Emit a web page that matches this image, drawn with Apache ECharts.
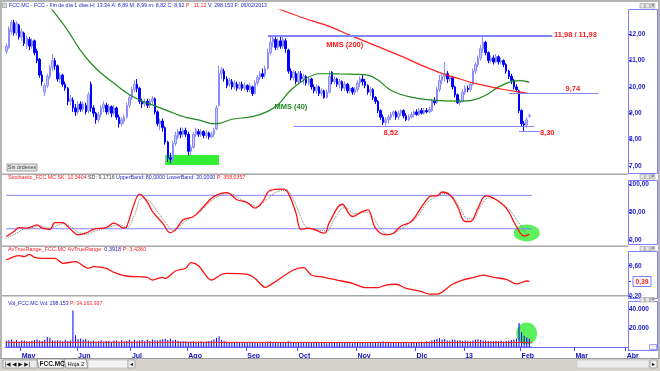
<!DOCTYPE html>
<html><head><meta charset="utf-8">
<script src="https://cdn.jsdelivr.net/npm/echarts@6/dist/echarts.min.js"></script>
<style>html,body{margin:0;padding:0;background:#fff;}#c{width:660px;height:371px;}</style>
</head><body><div id="c"></div>
<script>
// ---- tick labels (month starts, trading-day index) ----
const monthLabels = ['May','Jun','Jul','Ago','Sep','Oct','Nov','Dic','13','Feb','Mar','Abr'];
const monthStarts = [6,28,49,71,94,114,137,160,179,201,222,242];
const nCats = 243;
// ---- daily candles [open, close, low, high] ----
const candles = [
[11.35,11.55,11.25,11.65],[11.5,12.2,11.45,12.3],[12.1,12.45,12.0,12.55],[12.45,12.05,11.95,12.55],[12.05,12.4,11.95,12.5],
[12.35,11.9,11.8,12.4],[11.9,12.1,11.75,12.2],[12.05,11.65,11.55,12.1],[11.6,11.85,11.45,11.95],[11.8,11.55,11.4,11.9],
[11.55,11.75,11.45,11.85],[11.75,11.3,11.2,11.8],[11.35,11.0,10.9,11.45],[11.05,10.45,10.35,11.1],[10.45,10.2,10.05,10.6],
[9.8,10.05,9.65,10.15],[10.05,10.4,9.95,10.5],[10.4,10.75,10.3,10.85],[10.75,11.0,10.6,11.25],[11.0,10.8,10.65,11.1],
[10.8,10.3,10.2,10.85],[10.3,10.45,10.15,10.55],[10.45,10.1,10.0,10.5],[10.1,9.95,9.85,10.2],[9.95,9.45,9.3,10.0],
[9.45,9.55,9.3,9.7],[9.5,9.2,9.05,9.6],[9.2,9.05,8.9,9.35],[9.05,9.35,8.95,9.45],[9.35,9.15,9.05,9.45],
[9.15,9.35,9.05,9.45],[9.3,9.05,8.95,9.4],[9.1,9.7,9.0,9.8],[10.1,9.2,9.05,10.2],[9.2,9.0,8.85,9.3],
[9.0,8.75,8.6,9.05],[8.75,8.95,8.65,9.05],[8.95,9.2,8.85,9.3],[9.2,9.35,9.05,9.45],[9.3,9.05,8.95,9.4],
[9.05,9.25,8.95,9.35],[9.25,9.0,8.85,9.3],[9.0,9.2,8.9,9.3],[9.2,8.85,8.75,9.25],[8.85,8.6,8.45,8.95],
[8.6,8.75,8.5,8.85],[8.7,8.85,8.6,8.95],[8.85,9.3,8.8,9.4],[9.3,9.6,9.2,9.7],[9.6,9.9,9.5,10.0],
[9.9,10.1,9.8,10.25],[10.1,9.95,9.8,10.3],[9.95,9.45,9.35,10.0],[9.45,9.35,9.2,9.55],[9.35,9.45,9.25,9.55],
[9.45,9.3,9.2,9.55],[9.3,9.45,9.2,9.55],[9.45,9.55,9.35,9.65],[9.55,9.05,8.95,9.6],[9.05,8.6,8.5,9.1],
[8.6,8.7,8.35,8.8],[8.7,8.45,8.3,8.8],[8.45,7.9,7.8,8.5],[7.9,7.3,7.15,7.95],[7.3,7.25,7.1,7.5],
[7.25,7.85,7.15,7.95],[7.85,8.15,7.75,8.3],[8.1,8.3,8.0,8.4],[8.3,8.2,8.05,8.45],[8.2,8.35,8.1,8.45],
[8.35,8.2,8.1,8.45],[8.2,7.55,7.4,8.3],[7.55,7.7,7.4,7.8],[7.7,8.2,7.65,8.3],[8.2,8.35,8.1,8.45],
[8.3,8.2,8.1,8.4],[8.2,8.3,8.1,8.4],[8.3,8.15,8.05,8.35],[8.15,8.25,8.05,8.35],[8.25,8.1,8.0,8.3],
[8.1,8.2,8.05,8.3],[8.2,8.35,8.1,8.45],[8.4,9.2,8.35,9.3],[9.3,10.5,9.25,10.8],[10.5,10.65,10.3,10.75],
[10.6,10.3,10.2,10.7],[10.3,10.05,9.95,10.4],[10.1,10.25,10.0,10.35],[10.2,10.0,9.9,10.3],[10.0,10.15,9.9,10.25],
[10.1,9.95,9.85,10.2],[9.95,10.1,9.9,10.2],[10.1,9.95,9.85,10.2],[9.95,10.05,9.85,10.15],[10.05,9.9,9.8,10.1],
[9.9,10.05,9.8,10.15],[10.0,9.75,9.65,10.05],[9.75,10.15,9.7,10.25],[10.15,10.35,10.05,10.45],[10.35,10.5,10.25,10.6],
[10.5,10.4,10.3,10.7],[10.45,10.7,10.35,10.8],[10.7,11.3,10.65,11.45],[11.3,11.7,11.2,11.9],[11.7,11.85,11.5,11.98],
[11.8,11.5,11.4,11.9],[11.5,11.75,11.4,11.85],[11.75,11.55,11.45,11.9],[11.55,11.8,11.45,11.93],[11.75,11.45,11.3,11.85],
[11.4,10.6,10.5,11.45],[10.6,10.35,10.25,10.7],[10.35,10.55,10.25,10.65],[10.5,10.2,10.1,10.6],[10.2,10.5,10.1,10.6],
[10.5,10.3,10.15,10.6],[10.3,10.4,10.1,10.5],[10.4,10.15,10.05,10.45],[10.15,10.3,10.05,10.4],[10.3,10.0,9.9,10.35],
[10.0,9.85,9.75,10.1],[9.85,10.0,9.75,10.1],[10.0,9.75,9.65,10.05],[9.75,9.85,9.65,9.95],[9.85,9.6,9.55,9.9],
[9.6,9.8,9.55,9.9],[9.8,10.4,9.75,10.6],[10.55,10.2,10.1,10.6],[10.2,10.3,10.1,10.4],[10.3,10.1,10.0,10.35],
[10.1,10.2,9.95,10.3],[10.2,9.95,9.85,10.25],[9.95,10.1,9.85,10.2],[10.1,9.85,9.75,10.15],[9.85,9.95,9.75,10.05],
[9.95,9.8,9.7,10.0],[9.8,9.9,9.7,10.0],[9.9,10.15,9.8,10.25],[10.15,10.3,10.0,10.4],[10.3,10.2,10.05,10.45],
[10.2,10.05,9.95,10.3],[10.05,9.8,9.7,10.1],[9.8,9.9,9.65,10.0],[9.9,9.6,9.5,9.95],[9.6,9.45,9.35,9.65],
[9.45,9.1,9.0,9.5],[9.1,8.85,8.75,9.15],[8.85,8.65,8.55,8.95],[8.65,8.75,8.52,8.85],[8.75,8.85,8.6,8.95],
[8.85,8.95,8.75,9.05],[8.95,9.05,8.85,9.1],[9.05,8.85,8.75,9.1],[8.85,9.0,8.75,9.1],[9.0,9.1,8.9,9.15],
[9.1,8.9,8.8,9.15],[8.9,8.75,8.7,9.0],[8.75,8.85,8.7,8.95],[8.85,8.95,8.8,9.05],[8.95,9.05,8.85,9.1],
[9.05,8.95,8.9,9.15],[8.95,9.1,8.9,9.2],[9.1,9.0,8.95,9.2],[9.0,9.1,8.95,9.2],[9.1,9.05,9.0,9.2],
[9.05,9.15,9.0,9.25],[9.1,9.45,9.05,9.55],[9.45,9.4,9.3,9.6],[9.4,9.9,9.35,10.0],[9.9,10.25,9.8,10.45],
[10.25,10.4,10.1,10.55],[10.4,10.5,10.2,10.95],[10.5,10.3,10.15,10.6],[10.3,10.35,10.2,10.45],[10.35,10.0,9.9,10.4],
[10.0,9.7,9.6,10.05],[9.7,9.4,9.35,9.75],[9.4,9.45,9.3,9.55],[9.45,9.8,9.4,9.9],[9.8,9.95,9.7,10.05],
[9.95,9.9,9.8,10.05],[9.9,10.1,9.8,10.2],[10.1,10.6,10.05,10.7],[10.6,10.85,10.5,10.95],[10.85,11.1,10.75,11.2],
[11.1,11.45,11.0,11.6],[11.45,11.7,11.3,11.98],[11.7,11.3,11.2,11.75],[11.3,11.0,10.9,11.35],[11.0,11.1,10.9,11.2],
[11.1,10.95,10.85,11.2],[10.95,11.15,10.9,11.25],[11.15,10.95,10.85,11.2],[10.95,11.0,10.85,11.1],[11.0,10.85,10.75,11.05],
[10.85,10.6,10.5,10.9],[10.6,10.4,10.3,10.65],[10.4,10.25,10.1,10.5],[10.25,10.0,9.9,10.3],[10.0,9.9,9.8,10.1],
[9.85,9.1,9.0,9.9],[9.1,8.6,8.5,9.15],[8.6,8.55,8.3,8.7],[8.55,8.75,8.45,8.85],[8.89,8.92,8.82,8.99]
];
// ---- moving averages [dayIndex, value] ----
const mms40 = [[12,13.6],[18,12.92],[21,12.55],[24,12.14],[27,11.68],[29,11.38],[33,10.9],[37,10.52],[42,10.14],[47,9.77],[52,9.5],[59,9.24],[64,9.05],[70,8.84],[76,8.72],[80,8.6],[83,8.61],[88,8.77],[96,8.87],[102,9.07],[106,9.33],[111,9.88],[117,10.32],[122,10.5],[126,10.5],[130,10.49],[141,10.45],[145,10.26],[150,9.87],[157,9.63],[166,9.5],[176,9.46],[182,9.5],[187,9.68],[192,10.0],[197,10.2],[201,10.24],[204,10.17]];
const mms200 = [[100,13.2],[106,12.97],[115,12.65],[126,12.3],[134,11.97],[144,11.57],[154,11.17],[163,10.78],[170,10.51],[177,10.3],[182,10.15],[189,10.0],[193,9.92],[199,9.82],[204,9.75]];
// ---- stochastic [dayIndex, value] ----
const stochK = [[0,6],[3,15],[5,22],[8,21],[10,24],[12,27],[14,21],[17,19],[19,31],[22,31],[24,24],[26,15],[28,9],[31,12],[34,19],[37,21],[39,22],[42,30],[46,21],[47,24],[50,66],[52,82],[55,68],[57,51],[61,30],[64,13],[66,18],[69,36],[73,42],[77,60],[81,78],[86,85],[90,72],[94,67],[97,57],[100,69],[103,89],[108,91],[110,84],[113,48],[115,19],[118,21],[124,12],[126,31],[131,64],[135,42],[139,51],[141,54],[144,21],[148,9],[151,12],[154,25],[158,33],[163,66],[166,79],[168,79],[170,86],[173,81],[176,60],[179,33],[181,33],[184,57],[187,79],[190,75],[195,57],[199,24],[202,7],[204,10]];
const stochD = [[0,3],[4,12],[7,20],[10,22],[13,25],[16,21],[19,24],[22,29],[25,24],[28,14],[31,10],[34,15],[38,20],[41,24],[44,27],[47,22],[50,45],[53,75],[56,69],[59,50],[62,32],[65,17],[68,26],[71,37],[75,48],[79,66],[83,79],[87,83],[91,74],[95,65],[98,60],[101,70],[105,85],[109,89],[112,72],[115,40],[117,23],[120,19],[125,16],[128,38],[132,58],[136,47],[140,50],[143,40],[146,20],[149,10],[152,14],[156,26],[160,40],[164,66],[167,76],[171,83],[174,78],[177,58],[180,38],[182,38],[185,60],[188,75],[191,73],[196,55],[200,30],[203,11],[204,9]];
const stochBands = [80, 20];
// ---- average true range [dayIndex, value] ----
const atr = [[0,0.675],[5,0.732],[7,0.719],[9,0.75],[11,0.711],[14,0.698],[19,0.698],[22,0.632],[27,0.653],[32,0.566],[34,0.587],[39,0.566],[42,0.513],[47,0.464],[55,0.447],[57,0.411],[61,0.447],[62,0.434],[66,0.53],[70,0.566],[72,0.64],[75,0.60],[80,0.411],[84,0.487],[86,0.50],[94,0.487],[97,0.434],[101,0.315],[104,0.368],[112,0.543],[116,0.574],[119,0.477],[124,0.447],[129,0.411],[135,0.368],[140,0.31],[145,0.31],[148,0.345],[152,0.355],[156,0.302],[162,0.258],[165,0.224],[168,0.224],[174,0.355],[178,0.411],[182,0.442],[186,0.477],[190,0.447],[195,0.42],[199,0.359],[203,0.398],[204,0.3918]];
const atrLast = 0.3918;
// ---- volume ----
const volume = [
6500,7200,8000,6000,7500,5500,6800,7000,6200,5800,
6600,7400,8200,6900,6300,7800,10500,9800,7000,6500,
7200,6800,6000,7600,6400,7000,39000,12500,8200,9000,
7800,8800,7000,6200,6800,5600,6000,7200,5800,6400,
6600,5200,7000,6800,5600,7200,6000,6400,7600,5800,
7800,6200,6800,7400,6000,7800,6400,8000,7200,7000,
7600,8200,8800,7400,9000,6800,7800,6600,5800,6200,
6000,5400,5800,6200,5200,5600,6000,5000,5800,6400,
7000,8200,9800,11500,7600,6400,5600,5000,5400,4800,
5200,4600,5000,5400,4800,4400,5000,4600,4200,4800,
5200,4600,5800,6000,5000,4400,4800,5200,4400,5000,
6200,5400,4800,4400,4200,4800,4600,5000,5400,4400,
4600,4800,4200,4600,5200,4000,4800,5000,4400,4600,
5000,4200,4800,4400,4600,4000,4400,4800,4200,5000,
4600,4400,4800,5000,5400,5600,5000,6000,5400,4800,
4400,4600,5000,4200,4400,4800,4600,4000,4400,4800,
4600,5000,5600,5200,6000,5800,7200,7600,8400,9200,
7800,8600,7000,6800,8000,7600,6800,7200,6400,7000,
6600,6200,7000,7600,8200,7400,7000,6800,6400,6200,
6000,6600,6200,6800,5800,6400,7000,7400,8000,9000,
25500,15800,12000,10000,8800];
const volAvg = [[0,4900],[60,5000],[120,4800],[160,4700],[205,4900]];
// ---- annotation levels ----
const resist = [11.98, 11.93];
const level974 = 9.74, support852 = 8.52, low830 = 8.30;

const FONT = 'Liberation Sans, Arial, sans-serif';
const BLUE = '#1c1cc8', RED = '#ff1a1a', LINEBLUE = '#8484ff';
const cats = Array.from({length: nCats}, (_, i) => { const k = monthStarts.indexOf(i); return k >= 0 ? monthLabels[k] : ''; });
const isMonth = (i) => monthStarts.indexOf(i) >= 0;
const fmt2 = v => v.toFixed(2).replace('.', ',');
const fmtVol = v => (v/1000).toFixed(3);

const grids = [
  {left:5, width:623, top:10, height:162},
  {left:5, width:623, top:180, height:65},
  {left:5, width:623, top:252, height:45},
  {left:5, width:623, top:301, height:48}
];
const xAxes = grids.map((g, i) => ({
  type:'category', gridIndex:i, data:cats, boundaryGap:true, show: i === 3, offset: 1,
  axisLine:{show:true, lineStyle:{color:'#6f6fff', width:1}},
  axisTick:{show:true, interval:(idx)=>isMonth(idx), length:4, lineStyle:{color:'#4a4ae0'}},
  axisLabel:{show:true, interval:(idx)=>isMonth(idx), align:'left', fontSize:7, fontWeight:'bold', color:'#1010c0', margin:3, fontFamily:FONT},
  splitLine:{show:false}
}));
function yAx(i, min, max, vals, fmt, tickVals) {
  return {type:'value', gridIndex:i, position:'right', min, max,
    splitLine:{show:false}, axisLine:{show:false},
    axisTick:{show:true, length:3, inside:false, customValues: tickVals || vals, lineStyle:{color:'#3030c0'}},
    axisLabel:{show:true, customValues: vals, formatter: fmt, fontSize:6.5, color:BLUE, margin:1, fontFamily:FONT, fontWeight:'bold'}};
}
const yAxes = [
  yAx(0, 6.764, 12.924, [7,8,9,10,11,12], fmt2),
  yAx(1, -9.2, 107.5, [0,50,100], fmt2),
  yAx(2, 0.187, 0.781, [0.2,0.6], fmt2, [0.2, atrLast, 0.6]),
  yAx(3, -2200, 49000, [20000,40000], fmtVol)
];

const lblStyle = (txt, color) => ({show:true, position:'inside', formatter:txt, color, fontSize:7.5, fontWeight:'bold', fontFamily:FONT});
const mp = (x, y, txt, color) => ({coord:[x, y], symbol:'circle', symbolSize:1, itemStyle:{color:'rgba(0,0,0,0)'}, label: lblStyle(txt, color)});
const hl = (x1, x2, y, color) => [{coord:[x1, y]}, {coord:[x2, y], lineStyle:{color, width:1, type:'solid'}}];

const series = [
  {type:'line', xAxisIndex:0, yAxisIndex:0, z:1, data:[[0, 7]], showSymbol:false, lineStyle:{opacity:0}, silent:true,
   markArea:{silent:true, itemStyle:{color:'#33ee33'}, data:[[{coord:[62, 7.41]}, {coord:[83, 7.03]}]]}},
  {type:'candlestick', xAxisIndex:0, yAxisIndex:0, z:2, data:candles, barWidth:2,
   itemStyle:{color:'#c6c6ff', color0:'#0000ff', borderColor:'#8c8cff', borderColor0:'#0000ff', borderWidth:1}},
  {type:'line', xAxisIndex:0, yAxisIndex:0, z:3, data:mms40, smooth:0.3, showSymbol:false, lineStyle:{color:'#1f8a1f', width:1.2}},
  {type:'line', xAxisIndex:0, yAxisIndex:0, z:3, data:mms200, smooth:0.3, showSymbol:false, lineStyle:{color:'#ff2020', width:1.2}},
  {type:'line', xAxisIndex:0, yAxisIndex:0, z:4, data:[[0, 7]], showSymbol:false, lineStyle:{opacity:0}, silent:true,
   markLine:{silent:true, symbol:'none', label:{show:false},
     data:[hl(102,213,resist[0],LINEBLUE), hl(102,213,resist[1],LINEBLUE), hl(196,231,level974,LINEBLUE), hl(112,206,support852,LINEBLUE), hl(200,208,low830,LINEBLUE)]},
   markPoint:{silent:true, data:[
     mp(222, 11.97, '11,98 / 11,93', RED), mp(132, 11.59, 'MMS (200)', RED), mp(111, 9.24, 'MMS (40)', '#1f8a1f'),
     mp(221, 9.94, '9,74', RED), mp(150, 8.25, '8,52', RED), mp(211, 8.25, '8,30', RED)]}},
  // stochastic
  {type:'scatter', xAxisIndex:1, yAxisIndex:1, z:1, data:[[203, 12.3]], symbol:'circle', symbolSize:[26,17], itemStyle:{color:'#33ee33'}, silent:true},
  {type:'line', xAxisIndex:1, yAxisIndex:1, z:2, data:[[0, stochBands[0]],[205, stochBands[0]]], showSymbol:false, lineStyle:{color:LINEBLUE, width:1}},
  {type:'line', xAxisIndex:1, yAxisIndex:1, z:2, data:[[0, stochBands[1]],[205, stochBands[1]]], showSymbol:false, lineStyle:{color:LINEBLUE, width:1}},
  {type:'line', xAxisIndex:1, yAxisIndex:1, z:3, data:stochD, smooth:0.4, showSymbol:false, lineStyle:{color:'#777', width:1, type:'dotted'}},
  {type:'line', xAxisIndex:1, yAxisIndex:1, z:4, data:stochK, smooth:0.4, showSymbol:false, lineStyle:{color:'#ff1010', width:1.3}},
  // ATR
  {type:'line', xAxisIndex:2, yAxisIndex:2, z:3, data:atr, smooth:0.3, showSymbol:false, lineStyle:{color:'#ff1010', width:1.3}},
  // volume
  {type:'scatter', xAxisIndex:3, yAxisIndex:3, z:1, data:[[203, 14300]], symbol:'circle', symbolSize:[21,22], itemStyle:{color:'#33ee33'}, silent:true},
  {type:'bar', xAxisIndex:3, yAxisIndex:3, z:2, data:volume, barWidth:1, itemStyle:{color:'#0000ff'}},
  {type:'line', xAxisIndex:3, yAxisIndex:3, z:3, data:[[0,0],[205,0]], showSymbol:false, lineStyle:{color:'#5a5aff', width:1}},
  {type:'line', xAxisIndex:3, yAxisIndex:3, z:3, data:volAvg, showSymbol:false, lineStyle:{color:'#ff2020', width:1}}
];

// ---- chrome / headers ----
function txt(x, y, parts, size) {
  const rich = {}; let s = '';
  parts.forEach((p, k) => { rich['s'+k] = {fill:p[1], fontSize:size, fontFamily:FONT}; s += '{s'+k+'|'+p[0]+'}'; });
  return {type:'text', z:100, x, y, style:{text:s, rich, fontSize:size, fontFamily:FONT, verticalAlign:'middle'}};
}
function ctrl(x, y) {
  return [
    {type:'rect', z:100, shape:{x:x, y:y, width:4.5, height:4.5}, style:{fill:'#e4e4e4', stroke:'#9a9a9a', lineWidth:0.6}},
    {type:'rect', z:100, shape:{x:x+5.2, y:y, width:4.5, height:4.5}, style:{fill:'#e4e4e4', stroke:'#9a9a9a', lineWidth:0.6}},
    {type:'rect', z:100, shape:{x:x+10.4, y:y, width:4.5, height:4.5}, style:{fill:'#e4e4e4', stroke:'#9a9a9a', lineWidth:0.6}},
    {type:'text', z:101, x:x+10.4+2.25, y:y+2.3, style:{text:'×', fontSize:5, fill:'#333', align:'center', verticalAlign:'middle'}}
  ];
}
const graphic = [
  {type:'rect', z:90, shape:{x:0,y:0,width:660,height:2}, style:{fill:'#b4b4b4'}},
  {type:'rect', z:90, shape:{x:0,y:0,width:2,height:358}, style:{fill:'#b4b4b4'}},
  {type:'rect', z:90, shape:{x:658,y:0,width:2,height:358}, style:{fill:'#b4b4b4'}},
  {type:'rect', z:90, shape:{x:2,y:173.5,width:626,height:1.5}, style:{fill:'#a8a8a8'}},
  {type:'rect', z:90, shape:{x:2,y:245.5,width:626,height:1.5}, style:{fill:'#a8a8a8'}},
  {type:'rect', z:90, shape:{x:2,y:295,width:626,height:1.5}, style:{fill:'#a8a8a8'}},
  // axis boxes
  {type:'rect', z:90, shape:{x:628.5,y:9.5,width:29,height:164}, style:{fill:'none', stroke:'#8080ff', lineWidth:1}},
  {type:'rect', z:90, shape:{x:628.5,y:180.5,width:29,height:64}, style:{fill:'none', stroke:'#8080ff', lineWidth:1}},
  {type:'rect', z:90, shape:{x:628.5,y:251.5,width:29,height:47}, style:{fill:'none', stroke:'#8080ff', lineWidth:1}},
  {type:'rect', z:90, shape:{x:628.5,y:301.5,width:29,height:49}, style:{fill:'none', stroke:'#8080ff', lineWidth:1}},
  {type:'rect', z:100, shape:{x:649.5,y:344.5,width:7,height:5}, style:{fill:'#eee', stroke:'#8080ff', lineWidth:0.7}},
  ...ctrl(640, 3.5), ...ctrl(640, 174.5), ...ctrl(640, 246.5), ...ctrl(640, 297.5),
  {type:'rect', z:100, shape:{x:2.5,y:3,width:4,height:4.5}, style:{fill:'#d8d8d8', stroke:'#888', lineWidth:0.6}},
  txt(9, 5.5, [['FCC.MC - FCC - Fin de día 1 días H: 13:34 A: 8,89 M: 8,99 m: 8,82 C: 8,92 ', BLUE], ['P : 11,12 ', RED], ['V: 298.153 F: 06/02/2013', BLUE]], 5.25),
  txt(8, 177.5, [['Stochastic_FCC.MC SK: 10,3404 ', RED], ['SD: 9,1716 ', '#444'], ['UpperBand: 80,0000 LowerBand: 20,0000 ', BLUE], ['P: 358,0357', RED]], 5.3),
  txt(8, 249, [['AvTrueRange_FCC.MC AvTrueRange: ', RED], ['0,3918 ', BLUE], ['P: 3,4260', RED]], 5.5),
  txt(8, 304, [['Vol_FCC.MC Vol: 298.153 ', BLUE], ['P: 34.163.937', RED]], 5.2),
  // Sin órdenes button
  {type:'rect', z:100, shape:{x:7,y:164,width:30,height:7}, style:{fill:'#e8e8e8', stroke:'#777', lineWidth:0.7}},
  {type:'text', z:101, x:22, y:167.6, style:{text:'Sin órdenes', fontSize:5.3, fill:'#333', align:'center', verticalAlign:'middle', fontFamily:FONT}},
  // tab bar
  {type:'rect', z:90, shape:{x:0,y:358,width:660,height:13}, style:{fill:'#d6d3ce'}},
  {type:'rect', z:90, shape:{x:0,y:358,width:660,height:1}, style:{fill:'#9a9a9a'}},
  {type:'rect', z:95, shape:{x:3,y:360,width:34,height:8}, style:{fill:'#ececec', stroke:'#888', lineWidth:0.6}},
  {type:'text', z:101, x:4.5, y:364.3, style:{text:'|◀ ◀ ▶ ▶|', fontSize:5.5, fill:'#111', verticalAlign:'middle', fontFamily:'DejaVu Sans'}},
  {type:'polygon', z:95, shape:{points:[[37,359],[62,359],[64,368],[39,368]]}, style:{fill:'#fff', stroke:'#666', lineWidth:0.6}},
  {type:'text', z:101, x:39.5, y:364, style:{text:'FCC.MC', fontSize:6.5, fontWeight:'bold', fill:'#111', verticalAlign:'middle', fontFamily:FONT}},
  {type:'polygon', z:95, shape:{points:[[64,359],[86,359],[88,368],[66,368]]}, style:{fill:'#f4f4f4', stroke:'#666', lineWidth:0.6}},
  {type:'text', z:101, x:67.5, y:364, style:{text:'Hoja 2', fontSize:5.8, fill:'#111', verticalAlign:'middle', fontFamily:FONT}},
  {type:'rect', z:95, shape:{x:88,y:360,width:40,height:8}, style:{fill:'#f4f4f4', stroke:'#aaa', lineWidth:0.5}},
  {type:'rect', z:95, shape:{x:128,y:360,width:7,height:8}, style:{fill:'#ececec', stroke:'#888', lineWidth:0.6}},
  {type:'text', z:101, x:131.5, y:364.2, style:{text:'◂', fontSize:6, fill:'#111', align:'center', verticalAlign:'middle', fontFamily:'DejaVu Sans'}},
  {type:'rect', z:95, shape:{x:577,y:360,width:72,height:8}, style:{fill:'#ececec', stroke:'#bbb', lineWidth:0.5}},
  {type:'rect', z:95, shape:{x:650,y:360,width:7,height:8}, style:{fill:'#ececec', stroke:'#888', lineWidth:0.6}},
  {type:'text', z:101, x:653.5, y:364.2, style:{text:'▸', fontSize:6, fill:'#111', align:'center', verticalAlign:'middle', fontFamily:'DejaVu Sans'}}
];

const chart = echarts.init(document.getElementById('c'), null, {renderer:'canvas'});
chart.setOption({
  animation:false, backgroundColor:'#ffffff',
  textStyle:{fontFamily:FONT},
  grid:grids, xAxis:xAxes, yAxis:yAxes, series, graphic
});
const yA = chart.convertToPixel({yAxisIndex:2}, atrLast);
chart.setOption({graphic: graphic.concat([
  {type:'rect', z:100, shape:{x:633,y:yA-5,width:18,height:10}, style:{fill:'#fff', stroke:'#5a5aff', lineWidth:0.8}},
  {type:'text', z:101, x:642, y:yA+0.3, style:{text:fmt2(atrLast), fontSize:6.8, fontWeight:'bold', fill:RED, align:'center', verticalAlign:'middle', fontFamily:FONT}}
])});
</script></body></html>
